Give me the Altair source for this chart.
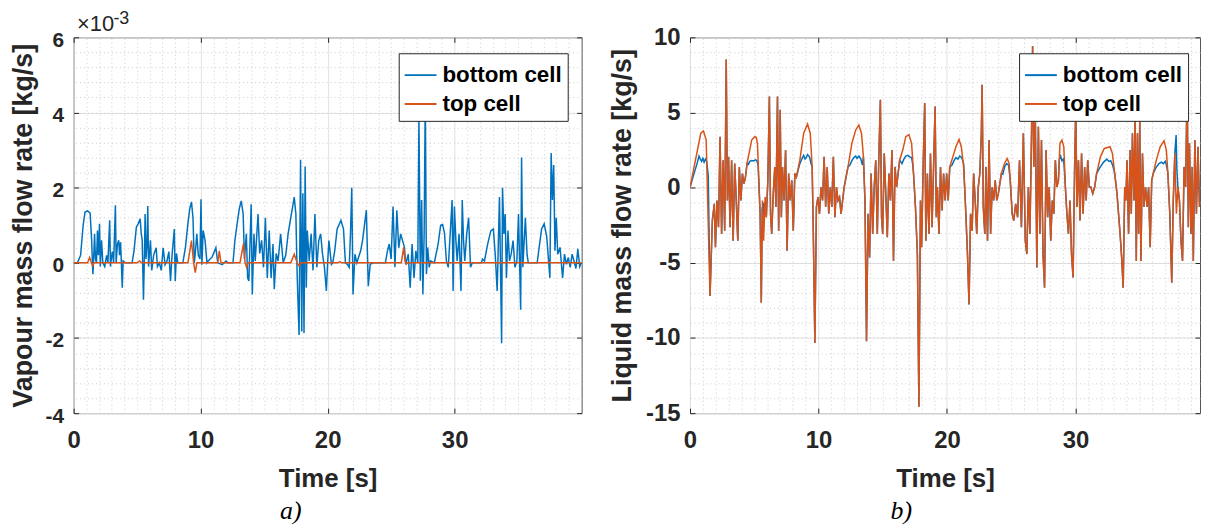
import altair as alt
import pandas as pd

# ---------------- data ----------------
series_names = ["bottom cell", "top cell"]
series_colors = ["#0072BD", "#D95319"]

x_ticks = [0, 10, 20, 30]
vap_y_ticks = [-4, -2, 0, 2, 4, 6]
liq_y_ticks = [-15, -10, -5, 0, 5, 10]
x_minor = [i for i in range(0, 41) if i % 10 != 0]
vap_y_minor = [round(-4 + 0.4 * i, 2) for i in range(26)]
liq_y_minor = list(range(-15, 11))

vap_exponent_base = "\u00d710"
vap_exponent_power = "-3"

# Vapour mass flow rate (x 1e-3 kg/s) - bottom cell
vap_bottom_t = [0.0, 0.3, 0.55, 0.75, 0.9, 1.1, 1.3, 1.42, 1.48, 1.52, 1.6, 1.65, 1.72, 1.8, 1.88, 1.95, 2.04, 2.1,
                2.2, 2.3, 2.45, 2.6, 2.7, 2.84, 2.9, 2.98, 3.05, 3.15, 3.29, 3.35, 3.45, 3.55, 3.62, 3.7, 3.83, 3.9,
                4.07, 4.6, 4.75, 4.94, 5.1, 5.24, 5.32, 5.4, 5.5, 5.58, 5.63, 5.7, 5.78, 5.84, 5.9, 6.05, 6.15, 6.3,
                6.5, 6.6, 6.75, 6.9, 7.05, 7.2, 7.35, 7.5, 7.63, 7.75, 7.93, 8.0, 8.1, 8.2, 8.6, 8.8, 9.0, 9.15,
                9.28, 9.4, 9.5, 9.58, 9.7, 9.82, 9.95, 10.03, 10.1, 10.2, 10.35, 10.5, 10.6, 10.9, 11.2, 11.35,
                11.7, 12.0, 12.15, 12.55, 12.7, 12.9, 13.05, 13.2, 13.35, 13.45, 13.6, 13.7, 13.8, 13.98, 14.07,
                14.2, 14.3, 14.52, 14.65, 14.8, 14.95, 15.1, 15.25, 15.4, 15.55, 15.7, 15.8, 15.95, 16.1, 16.3,
                16.5, 16.7, 16.9, 17.1, 17.3, 17.37, 17.5, 17.6, 17.75, 17.87, 17.96, 18.05, 18.14, 18.23, 18.32,
                18.4, 18.55, 18.7, 18.85, 19.0, 19.15, 19.3, 19.45, 19.6, 19.75, 19.9, 20.0, 20.1, 20.3, 20.4,
                20.55, 20.75, 21.05, 21.25, 21.4, 21.55, 21.7, 21.8, 21.9, 22.0, 22.15, 22.3, 22.6, 22.75, 23.05,
                23.2, 23.35, 23.6, 24.55, 24.7, 24.85, 25.0, 25.15, 25.3, 25.45, 25.6, 25.75, 25.9, 26.05, 26.15,
                26.35, 26.5, 26.65, 26.8, 26.95, 27.1, 27.19, 27.3, 27.4, 27.5, 27.6, 27.69, 27.78, 27.88, 28.0,
                28.1, 28.4, 28.7, 28.9, 29.05, 29.2, 29.35, 29.5, 29.65, 29.8, 29.88, 29.98, 30.1, 30.2, 30.35,
                30.5, 30.6, 30.7, 30.8, 30.95, 31.1, 31.25, 31.4, 32.1, 32.2, 32.35, 32.6, 32.85, 33.05, 33.2,
                33.35, 33.53, 33.7, 33.77, 33.88, 33.98, 34.08, 34.2, 34.32, 34.45, 34.6, 34.75, 34.9, 35.03,
                35.2, 35.27, 35.37, 35.57, 35.7, 35.8, 36.5, 36.65, 36.85, 37.05, 37.25, 37.4, 37.5, 37.6, 37.7,
                37.8, 37.9, 38.0, 38.12, 38.3, 38.5, 38.65, 38.8, 38.95, 39.1, 39.25, 39.4, 39.55, 39.7, 39.85,
                39.98]
vap_bottom_v = [0.0, 0.0, 0.2, 1.0, 1.35, 1.38, 1.32, 0.6, 0.0, -0.3, 0.3, 0.77, 0.1, 0.0, 0.86, 0.2, 1.04, -0.1,
                0.6, 0.0, -0.1, 0.2, 0.0, 1.13, -0.1, 0.15, 0.3, 0.0, 1.53, 0.0, 0.5, 0.6, 0.2, 0.55, -0.66, 0.05,
                0.0, 0.0, 0.3, 0.95, 1.05, 1.17, 0.8, 0.6, -0.98, 0.3, 1.3, 0.1, 0.5, 1.51, -0.1, 0.6, -0.2, 0.2,
                0.4, -0.1, 0.0, -0.2, 0.4, -0.05, 0.05, 0.3, -0.48, 0.2, 0.9, -0.48, 0.25, 0.0, 0.0, 0.4, 1.05, 1.45,
                1.62, 1.2, 0.0, 0.25, 0.77, 0.2, 0.1, 1.69, -0.05, 0.86, 0.6, 0.0, 0.05, 0.15, 0.4, 0.0,
                -0.05, 0.05, 0.0, 0.0, 0.6, 1.1, 1.45, 1.65, 1.3, 0.1, 0.77, -0.4, -0.48, 1.56, -0.84,
                0.77, 0.05, 1.3, 0.25, 0.6, -0.12, 1.2, -0.4, 0.86, -0.4, 0.5, -0.7, 0.25, 0.05, 0.77,
                0.0, 0.2, 0.8, 1.2, 1.6, 1.75, 1.3, -0.3, -1.92, 2.74, -1.83, 1.85, -1.87, 2.56, -0.66,
                0.86, 0.05, 0.77, -0.2, 1.3, -0.12, 0.59, 0.77, 0.23, -0.12, -0.75, 0.0, 0.59, -0.04, 0.0,
                0.3, 0.9, 1.13, 0.9, 0.0, -0.04, -0.12, 0.77, 2.0, -0.84, 0.23, 0.0, 0.32, 0.59, 1.4,
                -0.62, -0.04, 0.0, 0.0, 0.3, 0.5, 0.1, 1.5, -0.12, 1.4, 0.4, 0.77, 0.59, 0.41, -0.04,
                0.23, -0.66, 0.5, -0.4, 0.32, 0.0, 3.86, -0.48, 1.67, -0.84, 0.77, 4.5, -0.3, 0.41, -0.12,
                0.05, 0.0, 0.5, 1.0, 1.02, 0.8, 0.05, -0.12, 0.77, 1.67, -0.75, 1.5, 0.59, 0.05, 0.77,
                -0.75, 1.67, 0.59, 0.05, 0.77, 1.2, -0.12, 0.0, 0.0, 0.1, 0.05, 0.5, 0.85, 0.9, 0.2,
                -0.75, 1.75, -2.14, 2.0, 0.77, 1.3, -0.4, 0.86, 0.05, 0.23, 0.59, -0.12, 0.05, 1.3,
                -1.25, 2.8, -0.12, 1.2, 0.23, 0.0, 0.0, 0.4, 0.9, 1.04, 0.7, 0.05, -0.4, 2.92, 1.67,
                2.6, 0.32, 1.2, 0.23, 0.41, -0.4, 0.23, -0.04, 0.14, -0.12, 0.23, 0.05, -0.15, 0.37, -0.1,
                0.0]

# Vapour mass flow rate (x 1e-3 kg/s) - top cell
vap_top_t = [0.0, 1.1, 1.26, 1.38, 1.5, 1.6, 5.0, 5.2, 5.35, 9.0, 9.28, 9.45, 9.58, 9.7, 11.35, 11.47, 11.6,
             13.1, 13.38, 13.5, 13.62, 13.75, 17.1, 17.37, 17.5, 17.6, 17.75, 17.9, 20.8, 20.96, 21.1,
             25.8, 25.99, 26.1, 26.2, 26.3, 37.3, 37.4, 37.5, 39.98]
vap_top_v = [0.0, 0.0, 0.14, 0.02, -0.08, 0.0, 0.0, 0.05, 0.0, 0.0, 0.59, 0.0, -0.26, 0.0, 0.0, 0.32, 0.0,
             0.0, 0.52, 0.0, -0.12, 0.0, 0.0, 0.23, 0.1, 0.0, -0.08, 0.0, 0.0, 0.03, 0.0,
             0.0, 0.41, 0.05, -0.03, 0.0, 0.0, 0.03, 0.0, 0.0]

# Liquid mass flow rate (kg/s) - top cell
liq_top_t = [0.0, 0.84, 1.05, 1.26, 1.56, 1.74, 1.89, 1.98, 2.10, 2.22, 2.34, 2.46, 2.58, 2.70, 2.82, 2.91,
             3.00, 3.12, 3.24, 3.36, 3.48, 3.60, 3.72, 3.84, 3.96, 4.08, 4.20, 4.32, 4.44, 4.65, 4.80, 5.04,
             5.16, 5.25, 5.46, 5.55, 5.64, 5.73, 5.85, 5.94, 6.06, 6.18, 6.27, 6.36, 6.48, 6.60, 6.69, 6.81,
             6.90, 7.02, 7.11, 7.20, 7.32, 7.44, 7.56, 7.68, 7.80, 7.92, 8.04, 8.16, 8.28, 8.55, 8.85, 9.15,
             9.36, 9.51, 9.60, 9.72, 9.84, 9.96, 10.08, 10.20, 10.32, 10.44, 10.56, 10.68, 10.80, 10.92,
             11.04, 11.16, 11.28, 11.40, 11.52, 11.64, 11.76, 11.88, 12.00, 12.30, 12.60, 12.90, 13.14,
             13.35, 13.50, 13.62, 13.74, 13.86, 13.98, 14.10, 14.22, 14.34, 14.46, 14.58, 14.70, 14.82,
             14.91, 15.00, 15.12, 15.24, 15.36, 15.48, 15.60, 15.72, 15.84, 15.96, 16.08, 16.20, 16.32,
             16.56, 16.80, 17.04, 17.25, 17.40, 17.55, 17.70, 17.82, 17.94, 18.03, 18.15, 18.27, 18.36,
             18.48, 18.60, 18.72, 18.84, 18.96, 19.08, 19.17, 19.26, 19.38, 19.50, 19.62, 19.74, 19.86,
             19.98, 20.10, 20.22, 20.46, 20.70, 20.94, 21.12, 21.30, 21.45, 21.60, 21.72, 21.84, 21.96,
             22.08, 22.20, 22.32, 22.44, 22.56, 22.68, 22.74, 22.83, 22.95, 23.04, 23.16, 23.28, 23.40,
             23.52, 23.64, 23.76, 23.88, 24.00, 24.24, 24.48, 24.69, 24.84, 24.96, 25.08, 25.20, 25.35,
             25.50, 25.65, 25.80, 25.95, 26.10, 26.22, 26.34, 26.46, 26.58, 26.67, 26.76, 26.88, 27.00,
             27.12, 27.24, 27.36, 27.48, 27.60, 27.72, 27.84, 27.96, 28.08, 28.20, 28.32, 28.44, 28.56,
             28.68, 28.80, 28.95, 29.10, 29.22, 29.34, 29.46, 29.58, 29.70, 29.82, 29.94, 30.03, 30.12,
             30.24, 30.36, 30.48, 30.60, 30.72, 30.84, 30.96, 31.08, 31.20, 31.35, 31.50, 31.65, 31.95,
             32.25, 32.70, 32.88, 33.06, 33.24, 33.36, 33.48, 33.60, 33.72, 33.84, 33.93, 34.02, 34.14,
             34.26, 34.35, 34.44, 34.56, 34.65, 34.74, 34.83, 34.92, 35.01, 35.10, 35.22, 35.34, 35.46,
             35.58, 35.70, 35.82, 35.94, 36.06, 36.30, 36.60, 36.90, 37.08, 37.20, 37.35, 37.50, 37.62,
             37.74, 37.86, 37.98, 38.10, 38.22, 38.34, 38.46, 38.58, 38.70, 38.79, 38.88, 39.00, 39.09,
             39.18, 39.30, 39.42, 39.54, 39.66]
liq_top_v = [0.0, 3.62, 3.77, 3.17, -7.21, -2.19, -1.07, -3.97, -0.85, -2.63, 3.39, -3.08, 1.83, -2.86, 8.53,
             -0.85, 2.05, -2.63, 1.83, -3.53, 1.61, -0.85, -3.53, 1.38, -0.85, 0.94, 0.27, 0.71, 1.61, 2.5,
             3.17, 3.39, 3.35, 2.95, -1.74, -7.66, -0.85, -3.53, -0.63, -1.96, 0.49, 6.07, -1.74, -3.08,
             -0.40, 1.38, -1.29, 6.07, -2.86, 5.18, -1.96, 1.38, -0.85, 2.5, -4.2, 0.94, -0.85, 0.49, -2.86,
             0.94, 0.71, 1.83, 3.62, 4.24, 3.62, 1.38, -3.08, -10.33, -1.29, -0.63, -1.74, 0.04, -0.85,
             2.05, -1.29, 1.38, -1.74, 0.04, -1.29, 2.05, -1.96, 0.04, -0.85, -0.63, -1.74, -0.85, 0.04,
             1.38, 2.95, 3.84, 4.17, 3.62, 2.05, -0.85, -10.22, -1.74, -4.64, 0.94, -3.08, 0.04, 1.83,
             -3.08, 2.05, 5.85, -1.96, -3.08, 2.28, -0.40, -3.30, 0.94, -0.85, 2.5, -4.87, 1.38, 0.04,
             0.94, 1.83, 2.5, 3.39, 3.53, 2.95, 0.94, -1.29, -4.42, -14.58, -0.85, -3.97, 1.38, 5.63,
             -3.53, 0.94, -3.08, 2.28, -2.63, 1.38, 5.40, -1.96, 0.04, -3.08, 1.38, -1.52, 0.94, -0.85,
             0.94, -0.85, 1.38, 2.05, 2.72, 3.21, 2.72, 1.38, -1.29, -4.42, -7.77, -1.74, -2.86, 0.94,
             -0.85, -3.08, 0.04, 0.94, 3.62, 6.85, -1.29, -3.08, 1.38, -3.53, 3.17, -3.08, 0.04, -0.85,
             0.49, -0.85, -0.40, 0.94, 1.61, 1.94, 1.61, 0.04, -1.74, -2.19, -1.07, -1.96, 1.83, -2.63,
             3.62, -3.53, -4.42, 0.04, -3.08, 3.17, 9.42, 1.38, 4.73, -5.31, 4.06, -3.08, 3.17, -4.42,
             -6.65, 2.5, -1.96, 0.04, -3.53, -0.85, -1.74, 1.83, 0.04, 0.49, 2.95, 3.17, 2.72, 0.04,
             -1.74, -3.08, -0.85, -4.42, -5.98, 1.38, 5.40, -1.29, 1.83, -2.19, 2.28, -1.74, 1.38, -0.85,
             1.83, 0.04, 0.04, -0.40, 0.04, 0.94, 2.05, 2.61, 2.72, 2.28, 0.94, -0.40, -1.74, -3.08,
             -4.64, -6.65, 0.04, -0.85, 1.83, -3.08, 2.5, -1.74, 3.62, -0.85, 4.73, -4.87, 3.62, -3.08,
             4.51, -4.87, 2.28, -1.29, 0.04, -1.29, 0.04, -3.97, 0.49, 0.94, 1.83, 2.72, 3.12, 2.5, 0.94,
             -1.74, -6.32, -0.85, 2.28, -1.74, 0.04, -0.85, -3.53, -4.87, 1.38, 0.04, 6.96, -2.63, 2.95,
             -3.08, 1.38, -4.87, 3.17, -1.74, 2.72, -1.29]

# Liquid mass flow rate - bottom cell: identical to the top cell (hidden under it)
# except inside these windows, where it is visible and lower
liq_bottom_windows = [(0.0, 1.45), (4.5, 5.35), (5.6, 5.9), (8.5, 9.45), (12.4, 13.45), (16.45, 17.35),
                      (20.35, 21.35), (24.3, 24.95), (28.7, 29.15), (31.9, 32.95), (36.2, 37.15), (37.8, 37.92)]
liq_bottom_patch_t = [0.0, 0.3, 0.55, 0.7, 0.8, 0.9, 1.0, 1.1, 1.2, 1.3, 1.42,
                      4.55, 4.65, 4.8, 4.95, 5.1, 5.2, 5.3,
                      5.62, 5.68, 5.74, 5.82, 5.88,
                      8.55, 8.7, 8.85, 8.95, 9.05, 9.15, 9.3, 9.42,
                      12.45, 12.6, 12.75, 12.9, 13.0, 13.15, 13.3, 13.42,
                      16.5, 16.65, 16.8, 16.95, 17.1, 17.25, 17.33,
                      20.4, 20.55, 20.7, 20.85, 21.0, 21.15, 21.3,
                      24.35, 24.5, 24.65, 24.8, 24.92,
                      28.75, 28.85, 28.95, 29.05, 29.12,
                      31.95, 32.2, 32.45, 32.6, 32.75, 32.9,
                      36.25, 36.5, 36.7, 36.85, 37.0, 37.12,
                      37.84, 37.9]
liq_bottom_patch_v = [0.0, 0.9, 1.6, 2.1, 1.9, 1.75, 1.95, 1.7, 1.9, 1.75, 0.8,
                      1.55, 1.75, 1.8, 1.78, 1.85, 1.8, 1.5,
                      -1.3, -2.2, -1.0, -1.7, -0.9,
                      1.6, 1.9, 2.15, 1.9, 2.0, 2.2, 2.05, 1.6,
                      1.5, 1.8, 2.0, 2.1, 1.95, 2.1, 1.9, 1.5,
                      1.6, 1.9, 2.1, 2.15, 2.05, 2.0, 1.6,
                      1.5, 1.8, 2.0, 1.9, 2.1, 2.0, 1.6,
                      0.9, 1.4, 1.6, 1.5, 0.6,
                      1.9, 2.1, 1.8, 1.9, 1.5,
                      1.4, 1.7, 1.9, 1.75, 1.8, 1.5,
                      1.3, 1.6, 1.7, 1.6, 1.75, 1.4,
                      3.5, 1.2]

# ---------------- build tables ----------------
def in_windows(t):
    return any(a <= t <= b for a, b in liq_bottom_windows)

lb_pairs = [(t, v) for t, v in zip(liq_top_t, liq_top_v) if not in_windows(t)]
lb_pairs += list(zip(liq_bottom_patch_t, liq_bottom_patch_v))
lb_pairs.sort()

df_vb = pd.DataFrame({"t": vap_bottom_t, "v": vap_bottom_v, "series": series_names[0]})
df_vt = pd.DataFrame({"t": vap_top_t, "v": vap_top_v, "series": series_names[1]})
df_lb = pd.DataFrame({"t": [p[0] for p in lb_pairs], "v": [p[1] for p in lb_pairs], "series": series_names[0]})
df_lt = pd.DataFrame({"t": liq_top_t, "v": liq_top_v, "series": series_names[1]})

FONT = "Liberation Sans"
INK = "#262626"
LABEL_EXPR = "datum.value < 0 ? '-' + format(-datum.value, 'd') : format(datum.value, 'd')"


def panel(df_b, df_t, y_title, y_domain, y_ticks, y_minor, x_max, width, height,
          leg_x, leg_y, caption, cap_dx, ylab_size, ylab_offset, ytitle_pad, exponent):
    cscale = alt.Scale(domain=series_names, range=series_colors)
    legend = alt.Legend(orient="none", legendX=leg_x, legendY=leg_y, title=None,
                        symbolType="stroke", symbolSize=1024, symbolStrokeWidth=2,
                        labelFont=FONT, labelFontSize=22.5, labelFontWeight="bold", labelColor="#000000",
                        strokeColor=INK, fillColor="#ffffff", padding=5, rowPadding=-2, labelOffset=5)
    xs = alt.Scale(domain=[0, x_max], nice=False, zero=False)
    ys = alt.Scale(domain=y_domain, nice=False, zero=False)
    x_axis = alt.Axis(orient="bottom", values=x_ticks, offset=-5, tickSize=5, tickColor=INK, domain=False,
                      grid=True, gridColor="#e2e2e2", labelFont=FONT, labelFontSize=24,
                      labelFontWeight="bold", labelColor=INK, labelPadding=16, labelFlush=False,
                      labelExpr=LABEL_EXPR,
                      title="Time [s]", titleFont=FONT, titleFontSize=26, titleFontWeight="bold",
                      titleColor=INK, titlePadding=13)
    y_axis = alt.Axis(orient="left", values=y_ticks, offset=-5, tickSize=5, tickColor=INK, domain=False,
                      grid=True, gridColor="#e2e2e2", labelFont=FONT, labelFontSize=ylab_size,
                      labelFontWeight="bold", labelColor=INK, labelPadding=10, labelOffset=ylab_offset,
                      labelExpr=LABEL_EXPR,
                      title=y_title, titleFont=FONT, titleFontSize=27, titleFontWeight="bold",
                      titleColor=INK, titlePadding=ytitle_pad)
    x_minor_axis = alt.Axis(orient="top", values=x_minor, labels=False, ticks=False, domain=False,
                            grid=True, gridColor="#cdcdcd", gridDash=[1, 3], title="")
    y_minor_axis = alt.Axis(orient="right", values=y_minor, labels=False, ticks=False, domain=False,
                            grid=True, gridColor="#cdcdcd", gridDash=[1, 3], title="")
    # inward major ticks on the top and right edges of the box
    x_top_ticks = alt.Axis(orient="top", values=x_ticks, labels=False, ticks=True, tickSize=5, offset=-5,
                           tickColor=INK, domain=False, grid=False, title="")
    y_right_ticks = alt.Axis(orient="right", values=y_ticks, labels=False, ticks=True, tickSize=5, offset=-5,
                             tickColor=INK, domain=False, grid=False, title="")
    bottom = alt.Chart(df_b).mark_line(strokeWidth=1.5, clip=True).encode(
        x=alt.X("t:Q", scale=xs, axis=x_axis),
        y=alt.Y("v:Q", scale=ys, axis=y_axis),
        color=alt.Color("series:N", scale=cscale, legend=legend),
    )
    top = alt.Chart(df_t).mark_line(strokeWidth=1.5, clip=True).encode(
        x=alt.X("t:Q", scale=xs, axis=x_minor_axis),
        y=alt.Y("v:Q", scale=ys, axis=y_minor_axis),
        color=alt.Color("series:N", scale=cscale, legend=legend),
    )
    frame = pd.DataFrame({"t": [0], "v": [y_domain[0]]})
    ticks_layer = alt.Chart(frame).mark_point(opacity=0, size=1).encode(
        x=alt.X("t:Q", scale=xs, axis=x_top_ticks),
        y=alt.Y("v:Q", scale=ys, axis=y_right_ticks),
    )
    layers = [bottom, top, ticks_layer]
    if exponent:
        # "x10^-3" multiplier, anchored at the top-left corner of the axes
        corner = pd.DataFrame({"t": [0], "v": [y_domain[1]],
                               "base": [vap_exponent_base], "power": [vap_exponent_power]})
        base_txt = alt.Chart(corner).mark_text(align="left", baseline="alphabetic", dx=3.5, dy=-6,
                                               font=FONT, fontSize=22, color=INK).encode(
            x=alt.X("t:Q", scale=xs, axis=None), y=alt.Y("v:Q", scale=ys, axis=None), text="base:N")
        pow_txt = alt.Chart(corner).mark_text(align="left", baseline="alphabetic", dx=40, dy=-13,
                                              font=FONT, fontSize=18, color=INK).encode(
            x=alt.X("t:Q", scale=xs, axis=None), y=alt.Y("v:Q", scale=ys, axis=None), text="power:N")
        layers += [base_txt, pow_txt]
    return alt.layer(*layers).resolve_axis(x="independent", y="independent").properties(
        width=width, height=height,
        title=alt.TitleParams(caption, orient="bottom", anchor="middle", frame="group",
                              font="Liberation Serif", fontSize=26, fontStyle="italic",
                              fontWeight="normal", color="#000000", dx=cap_dx, offset=6),
    )


left = panel(df_vb, df_vt, "Vapour mass flow rate [kg/s]", [-4, 6], vap_y_ticks, vap_y_minor, 40, 511, 378,
             327, 16, "a)", -37, 21, 3, 8, True)
right = panel(df_lb, df_lt, "Liquid mass flow rate [kg/s]", [-15, 10], liq_y_ticks, liq_y_minor, 39.7, 513, 378,
              331, 16, "b)", -44, 24, 0, 9, False)

chart = alt.hconcat(left, right, spacing=109, bounds="flush").resolve_scale(
    color="independent").resolve_legend(color="independent").properties(
    padding={"left": 0, "top": 0, "right": 0, "bottom": 0}, background="#ffffff"
).configure_view(stroke="#555555", strokeWidth=1)

chart.save("out.html", embed_options={"renderer": "svg", "actions": False})
